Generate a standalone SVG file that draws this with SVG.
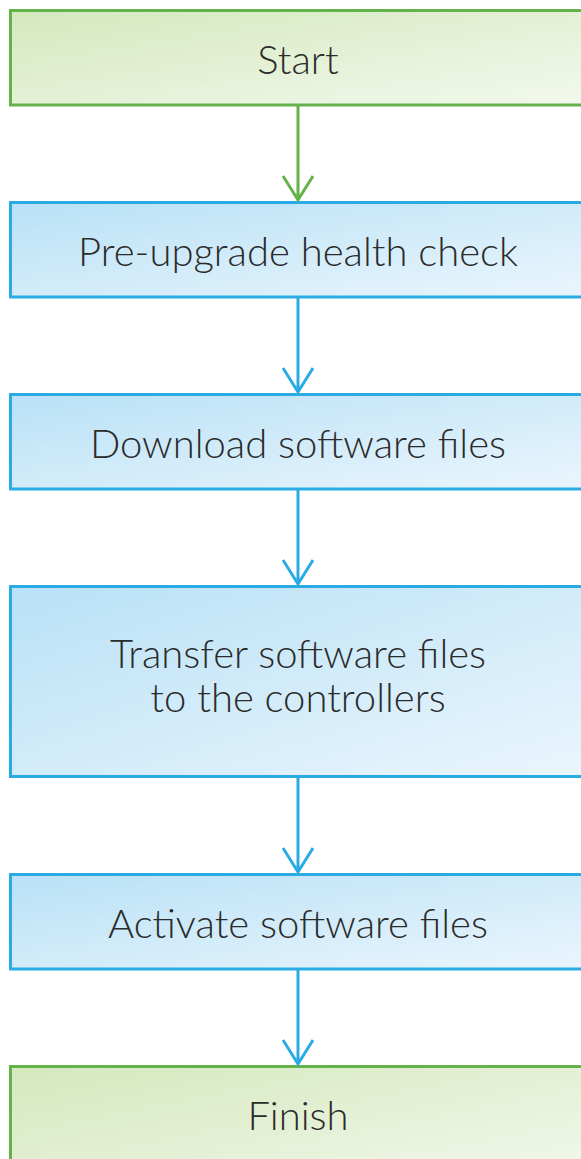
<svg xmlns="http://www.w3.org/2000/svg" width="581" height="1159" viewBox="0 0 581 1159">
<defs>
<linearGradient id="gg" x1="0" y1="0" x2="1" y2="1">
<stop offset="0" stop-color="#d5e8bd"/>
<stop offset="1" stop-color="#f3f9ee"/>
</linearGradient>
<linearGradient id="bg" x1="0" y1="0" x2="1" y2="1">
<stop offset="0" stop-color="#b9e1f6"/>
<stop offset="1" stop-color="#ebf6fd"/>
</linearGradient>
</defs>
<style>
.g{fill:url(#gg);stroke:#64b24a;stroke-width:3}
.b{fill:url(#bg);stroke:#2aabe3;stroke-width:3}
.t{font-family:Lato,"Open Sans",sans-serif;font-weight:300;font-size:40px;fill:#2b2b2b;text-anchor:middle}
.cg{stroke:#64b24a;stroke-width:3;fill:none}
.cb{stroke:#2aabe3;stroke-width:3;fill:none}
</style>
<g id="start"><rect class="g" x="10.5" y="10.5" width="600" height="94.5"/><text class="t" x="298" y="74">Start</text></g>
<g id="precheck"><rect class="b" x="10.5" y="202.5" width="600" height="94.5"/><text class="t" x="298" y="266">Pre-upgrade health check</text></g>
<g id="download"><rect class="b" x="10.5" y="394.5" width="600" height="94.5"/><text class="t" x="298" y="458">Download software files</text></g>
<g id="transfer"><rect class="b" x="10.5" y="586.5" width="600" height="190"/><text class="t" x="298" y="668">Transfer software files</text><text class="t" x="298" y="712">to the controllers</text></g>
<g id="activate"><rect class="b" x="10.5" y="874.5" width="600" height="94.5"/><text class="t" x="298" y="938">Activate software files</text></g>
<g id="finish"><rect class="g" x="10.5" y="1066.5" width="600" height="120"/><text class="t" x="298" y="1130">Finish</text></g>
<g id="connectors">
<path class="cg" d="M298 106V200M283 176L298 200L313 176"/>
<path class="cb" d="M298 298V392M283 368L298 392L313 368"/>
<path class="cb" d="M298 490V584M283 560L298 584L313 560"/>
<path class="cb" d="M298 778V872M283 848L298 872L313 848"/>
<path class="cb" d="M298 970V1064M283 1040L298 1064L313 1040"/>
</g>
</svg>
